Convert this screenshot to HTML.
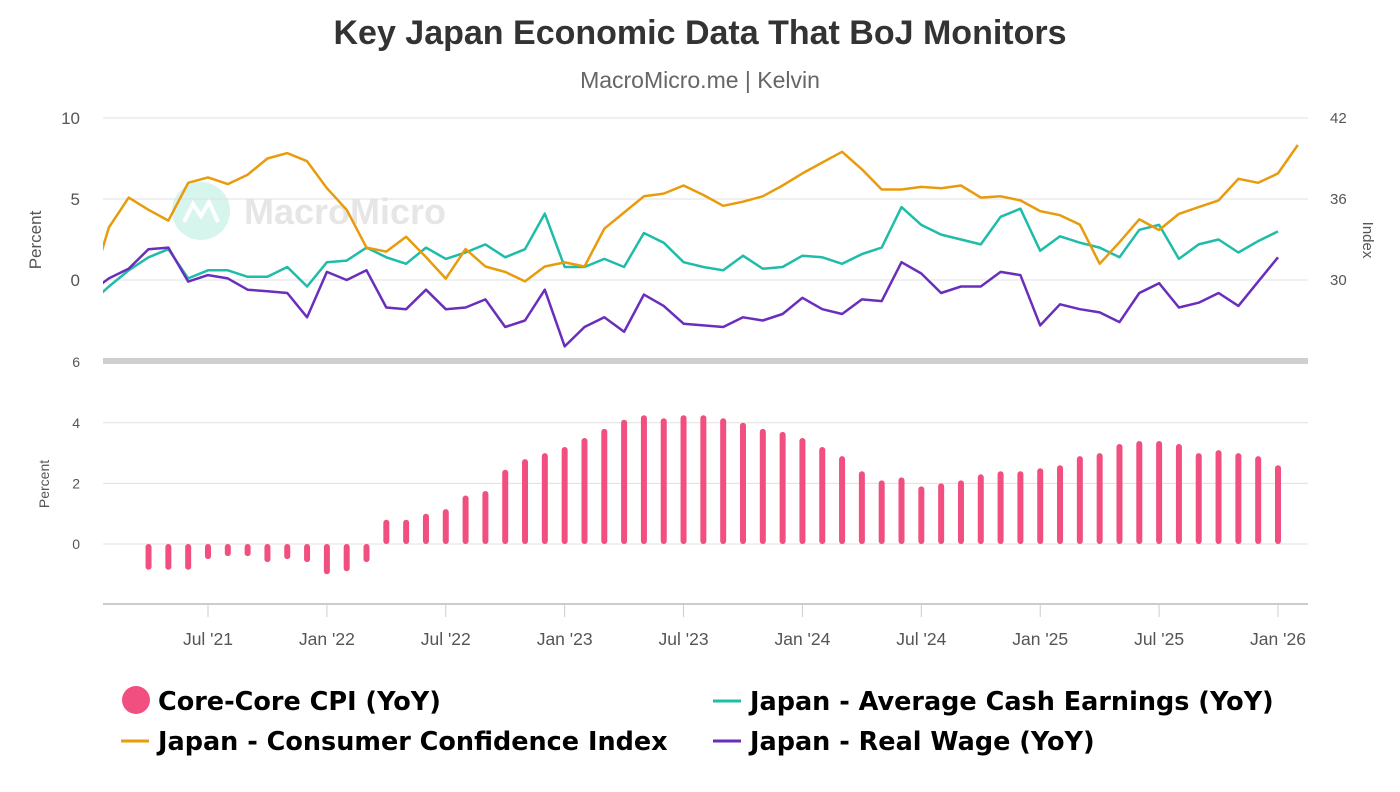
<!DOCTYPE html>
<html><head><meta charset="utf-8">
<style>
html,body{margin:0;padding:0;background:#fff;}
body{width:1400px;height:787px;overflow:hidden;font-family:"Liberation Sans",sans-serif;}
</style></head>
<body>
<svg id="chart" width="1400" height="787" xmlns="http://www.w3.org/2000/svg" font-family="Liberation Sans, sans-serif">
<text x="700" y="44" text-anchor="middle" font-size="34" font-weight="bold" fill="#333">Key Japan Economic Data That BoJ Monitors</text>
<text x="700" y="88" text-anchor="middle" font-size="23" fill="#666">MacroMicro.me | Kelvin</text>
<g>
<circle cx="201" cy="211" r="29" fill="#d6f5ec"/>
<path d="M184 222 L193 204 L201 216 L209 202 L218 222" stroke="#fff" stroke-width="4" fill="none"/>
<text x="244" y="224" font-size="36" font-weight="bold" fill="#e6e6e6">MacroMicro</text>
</g>
<g id="grid"></g>
<g id="axes"></g>
<g id="plot"></g>
<g font-size="25.5" font-weight="bold" fill="#000" font-family="DejaVu Sans, sans-serif">
<g><circle cx="136" cy="700" r="14" fill="#f14f80"/><text x="158" y="710">Core-Core CPI (YoY)</text></g>
<g><line x1="121" y1="741" x2="149" y2="741" stroke="#e89b0c" stroke-width="3"/><text x="158" y="750">Japan - Consumer Confidence Index</text></g>
<g><line x1="713" y1="701" x2="741" y2="701" stroke="#1fbcaa" stroke-width="3"/><text x="750" y="710">Japan - Average Cash Earnings (YoY)</text></g>
<g><line x1="713" y1="741" x2="741" y2="741" stroke="#6a2ebd" stroke-width="3"/><text x="750" y="750">Japan - Real Wage (YoY)</text></g>
</g>
</svg>
<script>
// Monthly series starting Jan 2021
const cci = [29.0,33.9,36.1,35.2,34.4,37.2,37.6,37.1,37.8,39.0,39.4,38.8,36.8,35.2,32.4,32.1,33.2,31.7,30.1,32.3,31.0,30.6,29.9,31.0,31.3,31.0,33.8,35.0,36.2,36.4,37.0,36.3,35.5,35.8,36.2,37.0,37.9,38.7,39.5,38.2,36.7,36.7,36.9,36.8,37.0,36.1,36.2,35.9,35.1,34.8,34.1,31.2,32.8,34.5,33.7,34.9,35.4,35.9,37.5,37.2,37.9,40.0];
const cash = [-1.5,-0.4,0.6,1.4,1.9,0.1,0.6,0.6,0.2,0.2,0.8,-0.4,1.1,1.2,2.0,1.4,1.0,2.0,1.3,1.7,2.2,1.4,1.9,4.1,0.8,0.8,1.3,0.8,2.9,2.3,1.1,0.8,0.6,1.5,0.7,0.8,1.5,1.4,1.0,1.6,2.0,4.5,3.4,2.8,2.5,2.2,3.9,4.4,1.8,2.7,2.3,2.0,1.4,3.1,3.4,1.3,2.2,2.5,1.7,2.4,3.0];
const wage = [-0.8,0.1,0.7,1.9,2.0,-0.1,0.3,0.1,-0.6,-0.7,-0.8,-2.3,0.5,0.0,0.6,-1.7,-1.8,-0.6,-1.8,-1.7,-1.2,-2.9,-2.5,-0.6,-4.1,-2.9,-2.3,-3.2,-0.9,-1.6,-2.7,-2.8,-2.9,-2.3,-2.5,-2.1,-1.1,-1.8,-2.1,-1.2,-1.3,1.1,0.4,-0.8,-0.4,-0.4,0.5,0.3,-2.8,-1.5,-1.8,-2.0,-2.6,-0.8,-0.2,-1.7,-1.4,-0.8,-1.6,-0.1,1.4];
// Core-core CPI starting Apr 2021
const cpi = [-0.85,-0.85,-0.85,-0.5,-0.4,-0.4,-0.6,-0.5,-0.6,-1.0,-0.9,-0.6,0.8,0.8,1.0,1.15,1.6,1.75,2.45,2.8,3.0,3.2,3.5,3.8,4.1,4.25,4.15,4.25,4.25,4.15,4.0,3.8,3.7,3.5,3.2,2.9,2.4,2.1,2.2,1.9,2.0,2.1,2.3,2.4,2.4,2.5,2.6,2.9,3.0,3.3,3.4,3.4,3.3,3.0,3.1,3.0,2.9,2.6];
const xLabels = ["Jul '21","Jan '22","Jul '22","Jan '23","Jul '23","Jan '24","Jul '24","Jan '25","Jul '25","Jan '26"];
const xLabelMonths = [6,12,18,24,30,36,42,48,54,60];
const leftTicks = [10,5,0];
const rightTicks = [42,36,30];
const cpiTicks = [6,4,2,0];

const NS="http://www.w3.org/2000/svg";
const X0=103,X1=1308;
const xm = m => 89.1 + m*19.815;
const yL = v => 280 - v*16.2;
const yR = v => 280 - (v-30)*13.5;
const yB = v => 544 - v*30.3;
function mk(tag, attrs, parent){const e=document.createElementNS(NS,tag);for(const k in attrs)e.setAttribute(k,attrs[k]);parent.appendChild(e);return e;}
const grid=document.getElementById('grid'), axes=document.getElementById('axes'), plot=document.getElementById('plot');
const defs=mk('defs',{},plot);
const cp=mk('clipPath',{id:'clipTop'},defs); mk('rect',{x:X0,y:100,width:X1-X0,height:260},cp);

leftTicks.forEach(t=>{
  const l=mk('line',{x1:X0,x2:X1,y1:yL(t),y2:yL(t),stroke:'#e0e0e0','stroke-width':1},grid);
  
  
  const tx=mk('text',{x:80,y:yL(t)+6,'text-anchor':'end','font-size':17,fill:'#555'},axes); tx.textContent=t;
  
  
});
rightTicks.forEach(t=>{
  const tx=mk('text',{x:1330,y:yR(t)+5,'font-size':15,fill:'#555'},axes); tx.textContent=t;
  
  
});
cpiTicks.forEach(t=>{
  if(t<6){const l=mk('line',{x1:X0,x2:X1,y1:yB(t),y2:yB(t),stroke:'#e0e0e0','stroke-width':1},grid);
  
  }
  const tx=mk('text',{x:80,y:yB(t)+5,'text-anchor':'end','font-size':14,fill:'#555'},axes); tx.textContent=t;
  
  
});
let s=mk('rect',{x:X0,y:358,width:X1-X0,height:6,fill:'#cfcfcf'},grid);


s=mk('line',{x1:X0,x2:X1,y1:604,y2:604,stroke:'#ccc','stroke-width':2},axes);


xLabels.forEach((lab,i)=>{
  const x=xm(xLabelMonths[i]);
  mk('line',{x1:x,x2:x,y1:605,y2:617,stroke:'#ccc','stroke-width':1},axes);
  const tx=mk('text',{x:x,y:645,'text-anchor':'middle','font-size':17.5,fill:'#555'},axes); tx.textContent=lab;
  
  
});
let t1=mk('text',{transform:'translate(41,240) rotate(-90)','text-anchor':'middle','font-size':17,fill:'#555'},axes);t1.textContent='Percent';


t1=mk('text',{transform:'translate(1363,240) rotate(90)','text-anchor':'middle','font-size':15,fill:'#555'},axes);t1.textContent='Index';


t1=mk('text',{transform:'translate(49,484) rotate(-90)','text-anchor':'middle','font-size':14,fill:'#555'},axes);t1.textContent='Percent';



cpi.forEach((v,i)=>{
  const x=xm(i+3), y0=yB(0), y1=yB(v);
  const b=mk('rect',{x:x-3,y:Math.min(y0,y1),width:6,height:Math.max(1,Math.abs(y1-y0)),rx:3,fill:'#f14f80'},plot);
  
  
});
function line(arr,yf,color,name){
  const d=arr.map((v,i)=>(i?'L':'M')+xm(i).toFixed(1)+' '+yf(v).toFixed(1)).join(' ');
  const p=mk('path',{d:d,fill:'none',stroke:color,'stroke-width':2.5,'stroke-linejoin':'round','clip-path':'url(#clipTop)'},plot);
  
  
}
line(cash,yL,'#1fbcaa','cash-earnings-line');
line(wage,yL,'#6a2ebd','real-wage-line');
line(cci,yR,'#e89b0c','consumer-confidence-line');
</script>
</body></html>
